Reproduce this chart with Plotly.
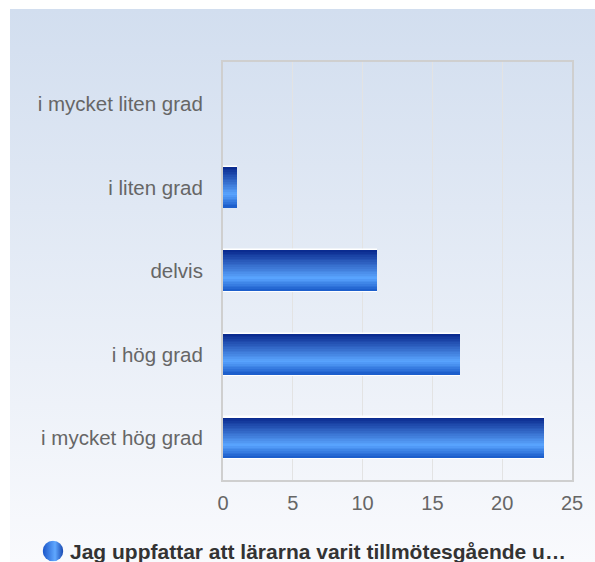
import plotly.graph_objects as go

categories = ["i mycket liten grad", "i liten grad", "delvis", "i hög grad", "i mycket hög grad"]
values = [0, 1, 11, 17, 23]
series_name = "Jag uppfattar att lärarna varit tillmötesgående u…"
x_ticks = [0, 5, 10, 15, 20, 25]

W, H = 595, 562
L, R, T, B = 223, 23, 62, 82

def lerp(c1, c2, t):
    return tuple(round(a + (b - a) * t) for a, b in zip(c1, c2))

dark = (8, 40, 140)
light = (90, 165, 255)
bottom = (25, 90, 200)

fig = go.Figure()
bar_w = 0.48
# white outline base
fig.add_trace(go.Bar(y=categories, x=values, orientation="h", width=bar_w + 0.02, offset=-(bar_w + 0.02) / 2,
                     marker=dict(color="white", line=dict(color="white", width=1.5)),
                     showlegend=False, hoverinfo="skip"))
N = 24
sw = bar_w / N
for i in range(N):
    t = (i + 0.5) / N
    if t < 0.68:
        c = lerp(dark, light, t / 0.68)
    else:
        c = lerp(light, bottom, (t - 0.68) / 0.32)
    fig.add_trace(go.Bar(y=categories, x=values, orientation="h", width=sw * 1.08, offset=-bar_w / 2 + i * sw,
                         marker=dict(color="rgb(%d,%d,%d)" % c, line=dict(width=0)),
                         showlegend=False, hoverinfo="skip"))

fig.add_trace(go.Scatter(x=[None], y=[None], mode="markers", name=series_name,
                         marker=dict(symbol="circle", size=16, color="rgba(0,0,0,0)", line=dict(width=0)),
                         showlegend=True, hoverinfo="skip"))

pw = W - L - R
ph = H - T - B

bg_svg = ("data:image/svg+xml;utf8,<svg xmlns='http://www.w3.org/2000/svg' width='100' height='100' preserveAspectRatio='none'>"
          "<defs><linearGradient id='g' x1='0' y1='0' x2='0' y2='1'>"
          "<stop offset='0' stop-color='%23d2deef'/><stop offset='1' stop-color='%23f9fafd'/>"
          "</linearGradient></defs><rect width='100' height='100' fill='url(%23g)'/></svg>")
x0 = (10 - L) / pw
x1 = (W - L) / pw
y1 = 1 + (T - 9) / ph
y0 = 1 - (H - T) / ph
fig.add_layout_image(dict(source=bg_svg, xref="paper", yref="paper", x=x0, y=y1,
                          sizex=x1 - x0, sizey=y1 - y0, sizing="stretch",
                          xanchor="left", yanchor="top", layer="below"))

# legend symbol (gradient circle)
circ_svg = ("data:image/svg+xml;utf8,<svg xmlns='http://www.w3.org/2000/svg' width='100' height='100'>"
            "<defs><linearGradient id='c' x1='0' y1='0' x2='1' y2='0'>"
            "<stop offset='0' stop-color='%231a55c8'/><stop offset='0.6' stop-color='%2360a8ff'/>"
            "<stop offset='1' stop-color='%231848b0'/>"
            "</linearGradient></defs><circle cx='50' cy='50' r='49' fill='url(%23c)'/></svg>")
cx, cy, d = 53, 551, 21
fig.add_layout_image(dict(source=circ_svg, xref="paper", yref="paper",
                          x=(cx - L) / pw, y=1 - (cy - T) / ph, sizex=d / pw, sizey=d / ph,
                          sizing="stretch", xanchor="center", yanchor="middle", layer="above"))

fig.update_layout(
    width=W, height=H,
    margin=dict(l=L, r=R, t=T, b=B, autoexpand=False),
    paper_bgcolor="white", plot_bgcolor="rgba(0,0,0,0)",
    barmode="overlay", bargap=0,
    font=dict(family="Liberation Sans, Arial, sans-serif"),
    xaxis=dict(range=[0, 25], tickvals=x_ticks, showgrid=True, gridcolor="#e3e3e3", gridwidth=1,
               zeroline=False, showline=True, linecolor="#cfcfcf", linewidth=2, mirror=True,
               tickfont=dict(size=20, color="#666666"), ticks="", ticklabelstandoff=4, fixedrange=True),
    yaxis=dict(autorange="reversed", showgrid=False, zeroline=False, showline=True,
               linecolor="#cfcfcf", linewidth=2, mirror=True, ticks="",
               tickfont=dict(size=20.5, color="#666666"), ticklabelstandoff=14, fixedrange=True),
    legend=dict(orientation="h", x=(30 - L) / pw, y=1 - (551 - T) / ph, xanchor="left", yanchor="middle",
                bgcolor="rgba(0,0,0,0)",
                font=dict(size=21, color="#333333", family="Liberation Sans, Arial, sans-serif", weight="bold"),
                itemwidth=30),
    showlegend=True,
)

fig.write_html("out.html", config={"displayModeBar": False},
               post_script="document.body.style.margin='0';")
